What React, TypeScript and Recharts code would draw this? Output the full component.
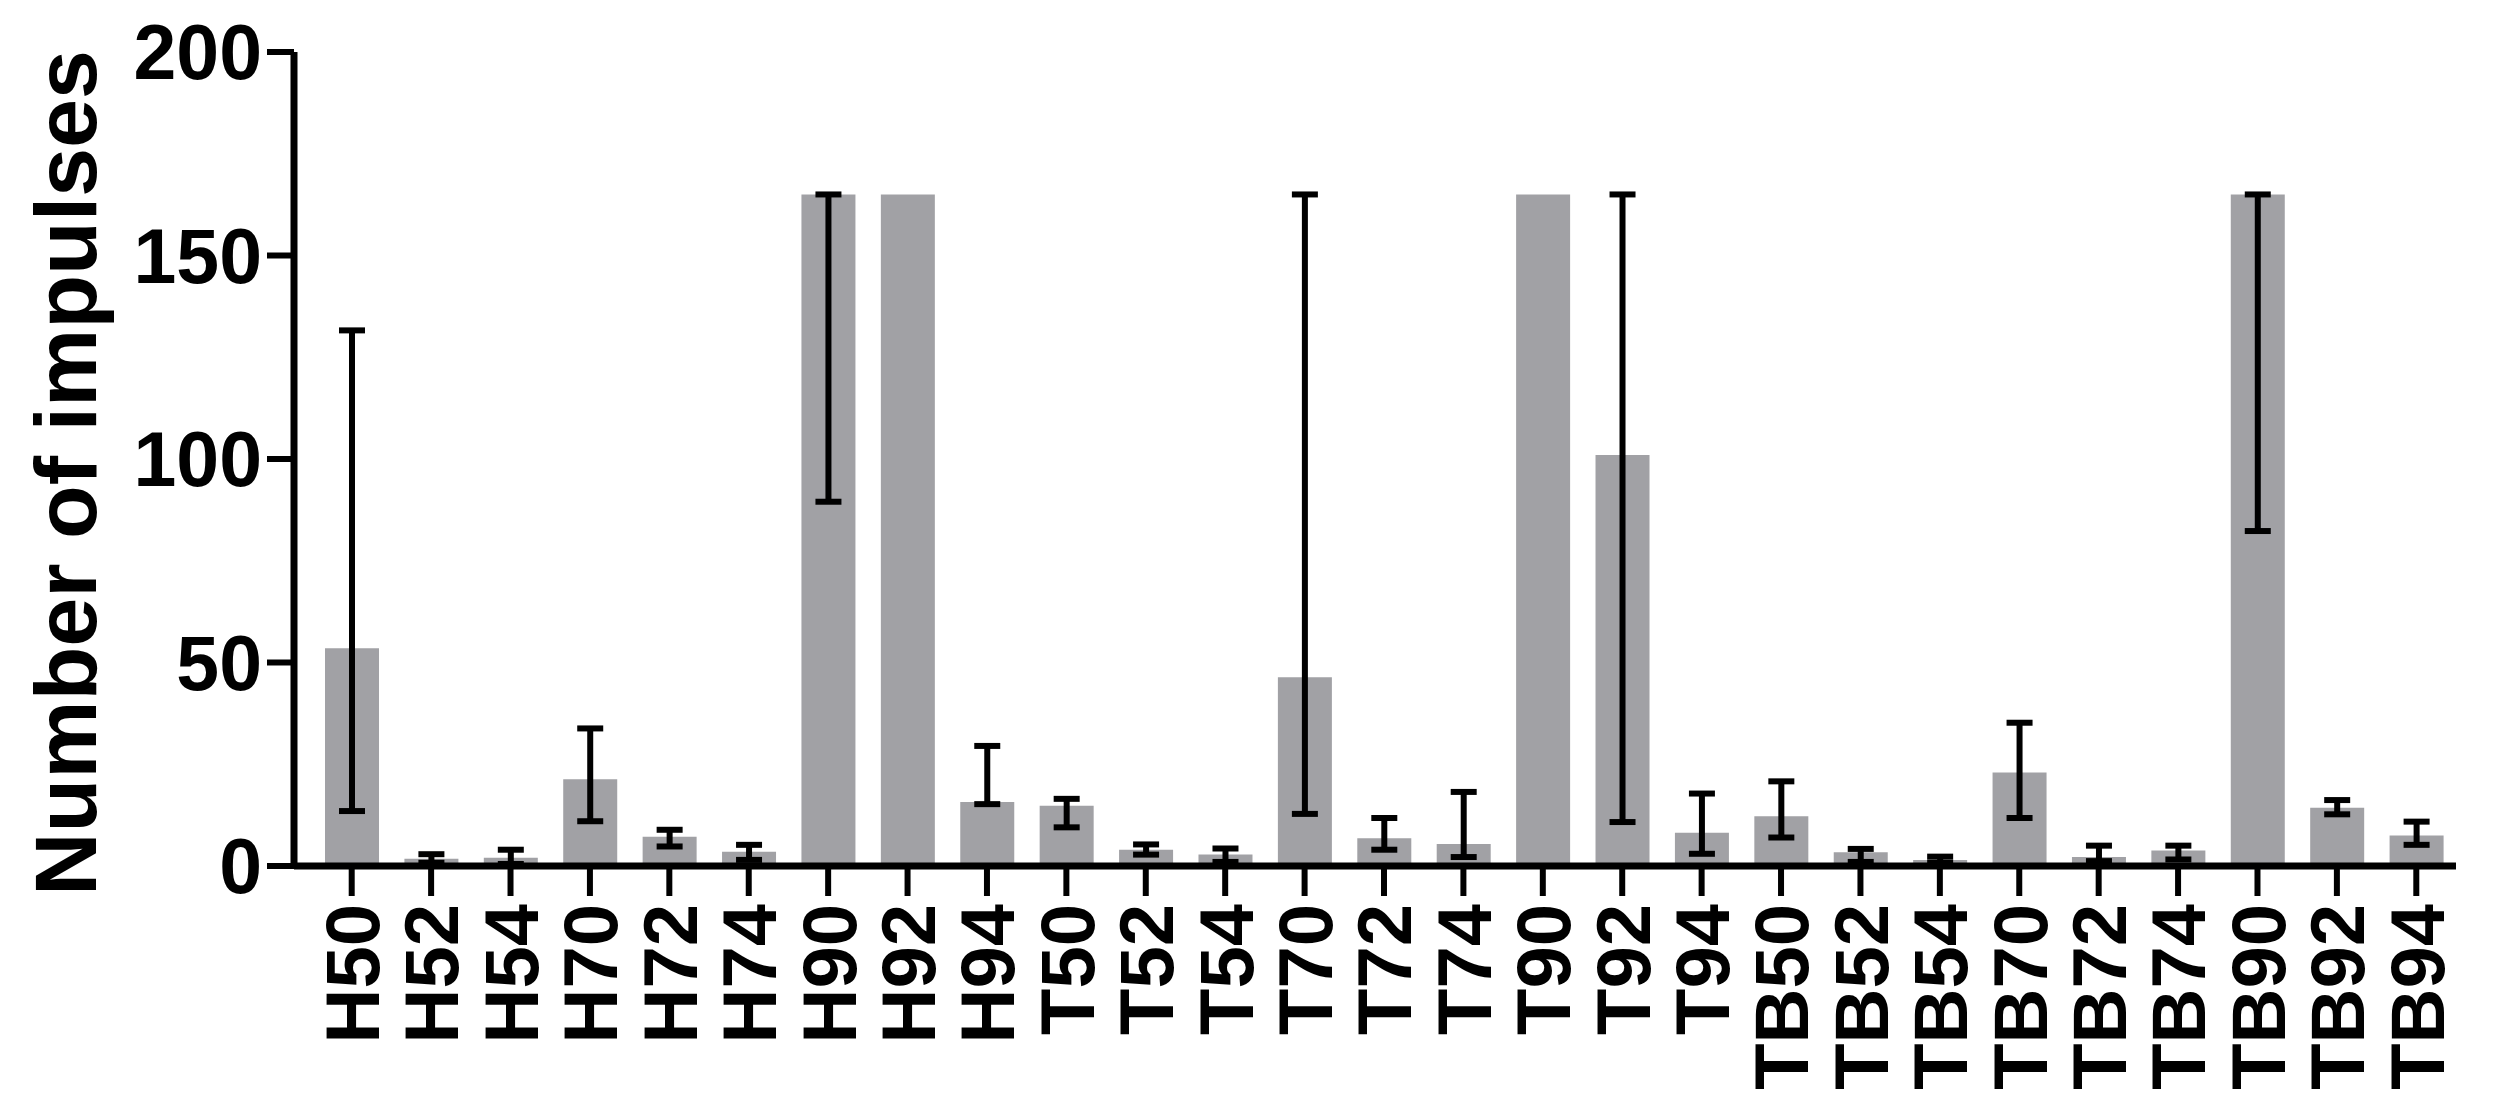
import { Bar, BarChart, ErrorBar, XAxis, YAxis } from "recharts";

const groups = [
  "H50", "H52", "H54", "H70", "H72", "H74", "H90", "H92", "H94",
  "T50", "T52", "T54", "T70", "T72", "T74", "T90", "T92", "T94",
  "TB50", "TB52", "TB54", "TB70", "TB72", "TB74", "TB90", "TB92", "TB94",
];

// bar heights (mean number of impulses)
const means = [
  53.5, 1.8, 2, 21.3, 7.2, 3.5, 165, 165, 15.7,
  14.8, 4, 2.8, 46.4, 6.8, 5.4, 165, 101, 8.2,
  12.2, 3.4, 1.5, 23, 2.2, 3.8, 165, 14.3, 7.5,
];

// lower and upper ends of the error bars (null = no bar drawn)
const lows = [
  13.5, 0.8, 0.5, 11, 4.8, 1.5, 89.5, null, 15.2,
  9.5, 2.8, 1, 12.8, 4, 2.2, null, 10.8, 3,
  7, 1, 0.8, 11.8, 1.2, 1.6, 82.3, 12.7, 5.2,
];
const highs = [
  131.6, 2.9, 4, 33.8, 8.9, 5.2, 165, null, 29.5,
  16.5, 5.3, 4.3, 165, 11.8, 18.2, null, 165, 17.8,
  20.8, 4.2, 2.3, 35.2, 5, 5, 165, 16.2, 10.9,
];

const yTicks = [0, 50, 100, 150, 200];

const data = groups.map((name, i) => ({
  name,
  value: means[i],
  err: lows[i] == null ? null : [means[i] - (lows[i] as number), (highs[i] as number) - means[i]],
}));

const FONT = "'Liberation Sans', Arial, Helvetica, sans-serif";

function XTick(props: any) {
  const { x, y, payload } = props;
  return (
    <text
      x={x}
      y={y}
      transform={`rotate(-90 ${x} ${y})`}
      textAnchor="end"
      dy="0.36em"
      fontFamily={FONT}
      fontWeight="bold"
      fontSize={76}
      fill="#000"
    >
      {payload.value}
    </text>
  );
}

function YTitle(props: any) {
  const { viewBox } = props;
  const cx = viewBox.x + 96;
  const cy = viewBox.y + viewBox.height / 2 + 14;
  return (
    <text
      x={cx}
      y={cy}
      transform={`rotate(-90 ${cx} ${cy})`}
      textAnchor="middle"
      fontFamily={FONT}
      fontWeight="bold"
      fontSize={88}
      fill="#000"
    >
      Number of impulses
    </text>
  );
}

export default function App() {
  return (
    <div style={{ position: "absolute", left: 0, top: 0, background: "#fff" }}>
      <BarChart
        width={2493}
        height={1106}
        data={data}
        margin={{ top: 52, right: 37, bottom: 0, left: 0 }}
        barSize={54}
      >
        <XAxis
          dataKey="name"
          interval={0}
          padding={{ left: 18, right: 0 }}
          axisLine={{ stroke: "#000", strokeWidth: 7 }}
          tickLine={{ stroke: "#000", strokeWidth: 6 }}
          tickSize={30}
          tickMargin={8}
          tick={<XTick />}
          height={240}
        />
        <YAxis
          domain={[0, 200]}
          ticks={yTicks}
          width={294}
          axisLine={{ stroke: "#000", strokeWidth: 7 }}
          tickLine={{ stroke: "#000", strokeWidth: 6 }}
          tickSize={27}
          tickMargin={5}
          tick={{ fontFamily: FONT, fontWeight: "bold", fontSize: 77, fill: "#000" }}
          label={<YTitle />}
        />
        <Bar dataKey="value" fill="#a1a1a5" isAnimationActive={false}>
          <ErrorBar
            dataKey="err"
            direction="y"
            width={13}
            stroke="#000"
            strokeWidth={6}
            isAnimationActive={false}
          />
        </Bar>
      </BarChart>
    </div>
  );
}
